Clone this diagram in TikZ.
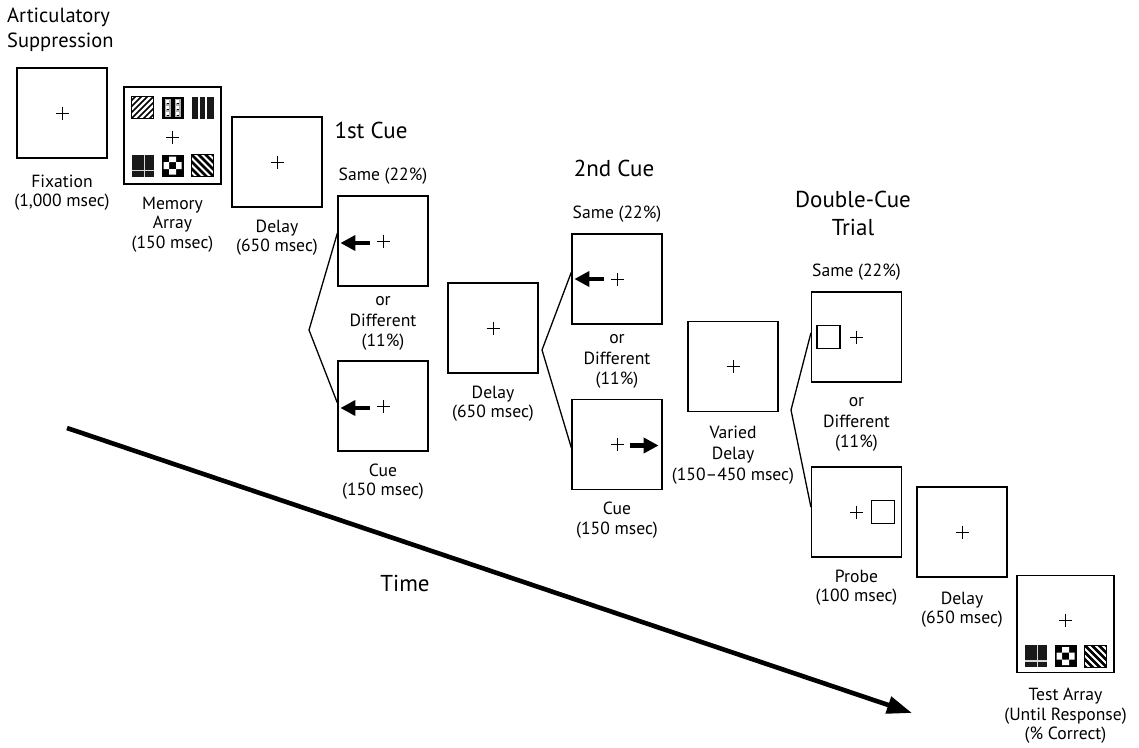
\documentclass[tikz,border=0pt]{standalone}
\usepackage{fontspec}
\setmainfont{PT Sans}
\usetikzlibrary{arrows.meta,positioning,calc}

\tikzset{
  frame/.style={draw,line width=1.2pt,minimum size=90pt,inner sep=0pt},
  bigframe/.style={frame,minimum size=97pt},
  lbl/.style={align=center,inner sep=0pt,font=\fontsize{17.6}{19.5}\selectfont},
  ttl/.style={align=center,inner sep=0pt,font=\fontsize{23}{28}\selectfont},
  fork/.style={line width=1.3pt},
  cuearrow/.style={line width=4.7pt,-{Triangle[length=15pt,width=15pt]}},
  timearrow/.style={line width=4.6pt,-{Triangle[length=25pt,width=17pt]}},
  probebox/.style={draw,line width=1.1pt,minimum size=23pt,inner sep=0pt},
  % fixation cross
  fixcross/.pic={\draw[line width=0.9pt] (-6.5,0) -- (6.5,0) (0,-6.5) -- (0,6.5);},
  % memory items, 22pt squares
  tilefine/.pic={
    \fill[white] (-11,-11) rectangle (11,11);
    \begin{scope}
      \clip (-11,-11) rectangle (11,11);
      \foreach \c in {-24,-18,...,24} \draw[line width=1.5pt] (\c-12,12) -- (\c+12,-12);
    \end{scope}
    \draw[line width=0.8pt] (-11,-11) rectangle (11,11);},
  tilegrid/.pic={
    \fill[black] (-11,-11) rectangle (11,11);
    \foreach \cx in {-5,5} {
      \fill[gray!60] (\cx-3,-9) rectangle (\cx+3,9);
      \foreach \cy in {-8,-2,4} \fill[white] (\cx-1.5,\cy) rectangle (\cx+1.5,\cy+3);
      \foreach \cy in {-5,1,7} \fill[black] (\cx-1,\cy) rectangle (\cx+1,\cy+1.5);
    }},
  tilebars/.pic={
    \fill[black!90] (-11,-11) rectangle (11,11);
    \draw[white,line width=1.3pt] (-3.5,-11) -- (-3.5,11) (3.5,-11) -- (3.5,11);},
  tilecross/.pic={
    \fill[black!90] (-11,-11) rectangle (11,11);
    \draw[white!85!black,line width=1.2pt] (-11,5) -- (11,5) (2,-11) -- (2,11);},
  tilecheck/.pic={
    \fill[black] (-11,-11) rectangle (11,11);
    \fill[white] (-3.5,-9) rectangle (3.5,-3.5) (-9,-3.5) rectangle (-3.5,3.5)
      (3.5,-3.5) rectangle (9,3.5) (-3.5,3.5) rectangle (3.5,9);},
  tilecoarse/.pic={
    \fill[white] (-11,-11) rectangle (11,11);
    \begin{scope}
      \clip (-11,-11) rectangle (11,11);
      \foreach \c in {-28,-21,...,28} \draw[line width=2.6pt] (\c-12,-12) -- (\c+12,12);
    \end{scope}
    \draw[line width=0.8pt] (-11,-11) rectangle (11,11);}
}

\begin{document}
\begin{tikzpicture}[x=1pt,y=-1pt]
  \useasboundingbox (0,0) rectangle (1139,747);

  % headings
  \node[align=left,inner sep=0pt,anchor=west,font=\fontsize{20.5}{25}\selectfont] (supp) at (7,30) {Articulatory\\Suppression};
  \node[ttl] (titleA) at (371,130) {1st Cue};
  \node[ttl] (titleB) at (614,168) {2nd Cue};
  \node[ttl] (titleC) at (853,213) {Double-Cue\\Trial};

  % frames
  \node[frame] (fixation) at (62,113) {};
  \node[bigframe] (memArray) at (172.5,135.5) {};
  \node[frame] (delayA) at (277,162) {};
  \node[frame] (cueAsame) at (383,241) {};
  \node[frame] (cueAdiff) at (383,406) {};
  \node[frame] (delayB) at (493,328) {};
  \node[frame] (cueBsame) at (617,279) {};
  \node[frame] (cueBdiff) at (617,444.5) {};
  \node[frame] (delayC) at (733,366.5) {};
  \node[frame] (probeSame) at (856.5,337) {};
  \node[frame] (probeDiff) at (856.5,512) {};
  \node[frame] (delayD) at (962,532) {};
  \node[bigframe] (testArray) at (1065.5,624) {};

  % crosses
  \pic at (fixation) {fixcross};
  \pic at ($(memArray)+(0,1.5)$) {fixcross};
  \pic at (delayA) {fixcross};
  \pic at (cueAsame) {fixcross};
  \pic at (cueAdiff) {fixcross};
  \pic at (delayB) {fixcross};
  \pic at (cueBsame) {fixcross};
  \pic at (cueBdiff) {fixcross};
  \pic at (delayC) {fixcross};
  \pic at (probeSame) {fixcross};
  \pic at (probeDiff) {fixcross};
  \pic at (delayD) {fixcross};
  \pic at ($(testArray)+(0,-4)$) {fixcross};

  % memory and test items
  \pic at ($(memArray)+(-30,-28)$) {tilefine};
  \pic at ($(memArray)+(0,-28)$) {tilegrid};
  \pic at ($(memArray)+(30,-28)$) {tilebars};
  \pic at ($(memArray)+(-30,30)$) {tilecross};
  \pic at ($(memArray)+(0,30)$) {tilecheck};
  \pic at ($(memArray)+(30,30)$) {tilecoarse};
  \pic at ($(testArray)+(-30,32)$) {tilecross};
  \pic at ($(testArray)+(0,32)$) {tilecheck};
  \pic at ($(testArray)+(30,32)$) {tilecoarse};

  % cue arrows
  \draw[cuearrow] ($(cueAsame)+(-13,2)$) -- ($(cueAsame.west)+(3,2)$);
  \draw[cuearrow] ($(cueAdiff)+(-13,2)$) -- ($(cueAdiff.west)+(3,2)$);
  \draw[cuearrow] ($(cueBsame)+(-13,0)$) -- ($(cueBsame.west)+(3,0)$);
  \draw[cuearrow] ($(cueBdiff)+(13,1)$) -- ($(cueBdiff.east)+(-4,1)$);

  % probes
  \node[probebox] (probeSameSq) at ($(probeSame)+(-28,0)$) {};
  \node[probebox] (probeDiffSq) at ($(probeDiff)+(26.5,0)$) {};

  % forks
  \coordinate (forkA) at (309,330);
  \coordinate (forkB) at (542,350);
  \coordinate (forkC) at (791,410);
  \draw[fork] ([yshift=8pt]cueAsame.west) -- (forkA) -- ([yshift=3pt]cueAdiff.west);
  \draw[fork] ([yshift=7pt]cueBsame.west) -- (forkB) -- ([yshift=-3.5pt]cueBdiff.west);
  \draw[fork] ([yshift=4pt]probeSame.west) -- (forkC) -- ([yshift=5pt]probeDiff.west);

  % labels
  \node[lbl,below=16pt of fixation] (fixationLbl) {Fixation\\(1,000 msec)};
  \node[lbl,below=12pt of memArray] (memLbl) {Memory\\Array\\(150 msec)};
  \node[lbl,below=12pt of delayA] (delayALbl) {Delay\\(650 msec)};
  \node[lbl,above=11pt of cueAsame] (sameA) {Same (22\%)};
  \node[lbl,font=\fontsize{17.6}{20.5}\selectfont] (diffA) at ($(cueAsame.south)!0.5!(cueAdiff.north)$) {or\\Different\\(11\%)};
  \node[lbl,below=12pt of cueAdiff] (cueALbl) {Cue\\(150 msec)};
  \node[lbl,below=12pt of delayB] (delayBLbl) {Delay\\(650 msec)};
  \node[lbl,above=11pt of cueBsame] (sameB) {Same (22\%)};
  \node[lbl,font=\fontsize{17.6}{20.5}\selectfont] (diffB) at ($(cueBsame.south)!0.5!(cueBdiff.north)$) {or\\Different\\(11\%)};
  \node[lbl,below=12pt of cueBdiff] (cueBLbl) {Cue\\(150 msec)};
  \node[lbl,font=\fontsize{17.6}{21}\selectfont,below=14pt of delayC] (delayCLbl) {Varied\\Delay\\(150--450 msec)};
  \node[lbl,above=11pt of probeSame] (sameC) {Same (22\%)};
  \node[lbl,font=\fontsize{17.6}{20.5}\selectfont] (diffC) at ($(probeSame.south)!0.5!(probeDiff.north)$) {or\\Different\\(11\%)};
  \node[lbl,below=12pt of probeDiff] (probeLbl) {Probe\\(100 msec)};
  \node[lbl,below=14pt of delayD] (delayDLbl) {Delay\\(650 msec)};
  \node[lbl,below=15pt of testArray] (testLbl) {Test Array\\(Until Response)\\(\% Correct)};

  % time axis
  \coordinate (timeStart) at (67,428);
  \coordinate (timeEnd) at (912,713);
  \draw[timearrow] (timeStart) -- (timeEnd);
  \node[ttl] (timeLbl) at (405,583) {Time};
\end{tikzpicture}
\end{document}
